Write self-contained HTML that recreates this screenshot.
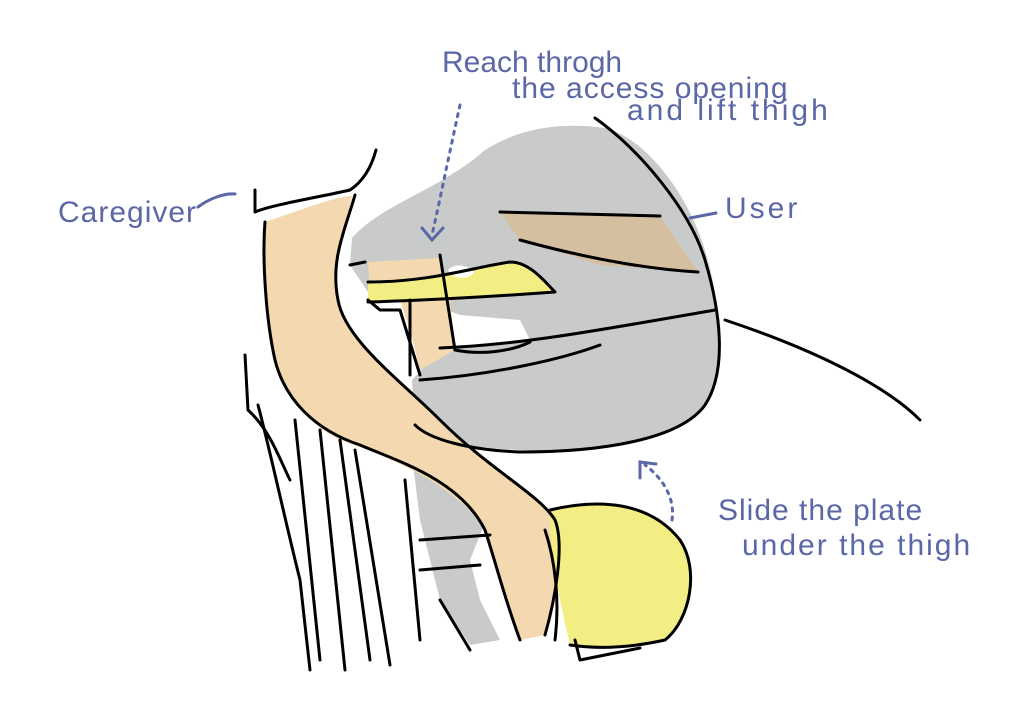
<!DOCTYPE html>
<html><head><meta charset="utf-8"><style>
html,body{margin:0;padding:0;background:#fff;width:1024px;height:703px;overflow:hidden}
svg{display:block}
text{font-family:"Liberation Sans",sans-serif;fill:#5b67a6;font-size:30px}
</style></head><body>
<svg width="1024" height="703" viewBox="0 0 1024 703">
<path d="M352,238 C380,205 440,190 485,150 C520,128 560,122 605,128 C650,140 690,200 705,250 C720,300 728,370 705,405 C680,440 600,452 520,450 C470,448 430,440 415,425 L412,380 L440,350 L530,340 L520,320 L460,315 L420,300 L370,295 L350,265 Z" fill="#c8cbca"/>
<path d="M410,440 L470,450 L490,510 L470,560 L480,600 L500,640 L470,645 L440,600 L420,520 Z" fill="#c8cbca"/>
<path d="M500,212 L660,216 L698,272 L600,265 L520,240 Z" fill="#d4bfa0"/>
<path d="M265,222 C300,210 340,195 352,196 C345,230 330,260 338,300 C345,340 400,380 440,420 C490,470 540,495 555,520 C565,545 555,600 545,635 L520,640 C505,600 495,560 485,530 C460,490 400,460 340,440 C300,420 275,380 268,320 C265,280 262,250 265,222 Z" fill="#f4d9b0"/>
<path d="M368,262 L440,258 L450,300 L455,350 L420,370 L410,330 L400,300 L370,290 Z" fill="#f4d9b0"/>
<path d="M368,282 C430,282 470,268 510,262 C530,262 545,282 555,292 C500,296 440,300 368,302 Z" fill="#f3ee84"/>
<path d="M448,270 C455,262 470,266 474,272 C470,280 452,280 448,270 Z" fill="#fff"/>
<path d="M550,510 C600,498 650,502 680,540 C700,570 690,620 665,640 C620,650 590,648 570,645 C560,600 550,560 550,510 Z" fill="#f3ee84"/>
<g fill="none" stroke="#000" stroke-width="3" stroke-linecap="round" stroke-linejoin="round">
<path d="M255,190 L255,212 C270,205 330,195 350,190 C365,180 372,165 376,150"/>
<path d="M338,300 C345,340 400,380 440,420 C490,470 540,495 555,520 C565,545 555,600 545,635"/>
<path d="M265,222 C262,260 266,320 275,360 C285,400 315,430 360,445 C400,462 460,480 485,530 C495,560 505,600 520,640"/>
<path d="M355,195 C345,230 330,260 338,300"/>
<path d="M595,118 C640,150 690,210 705,260 C720,310 728,370 705,405 C680,440 600,452 520,452 C470,450 430,440 415,425"/>
<path d="M500,212 L660,216"/><path d="M520,240 C600,262 660,270 698,272"/>
<path d="M440,348 C520,345 600,330 715,310"/>
<path d="M420,380 C490,375 560,360 600,345"/>
<path d="M725,320 C800,345 880,380 920,420"/>
<path d="M368,282 C430,282 470,268 510,262 C530,262 545,282 555,292 C500,296 440,300 368,302"/>
<path d="M350,265 L365,262"/><path d="M368,300 L380,310 L400,310 L420,375"/>
<path d="M440,255 L455,350"/>
<path d="M410,300 L410,375"/><path d="M455,350 C480,355 510,352 530,342"/>
<path d="M550,510 C600,498 650,502 680,540 C700,570 690,620 665,640 C620,650 590,648 570,645"/>
<path d="M545,530 C555,560 560,600 555,640"/><path d="M575,640 L580,660 L640,648"/>
<path d="M245,355 L248,410 C270,430 280,460 290,480"/>
<path d="M258,405 C270,450 285,520 300,580 L310,670"/>
<path d="M295,420 L320,660"/><path d="M320,430 L345,670"/><path d="M340,440 L370,660"/><path d="M355,450 L390,665"/>
<path d="M405,480 L420,640"/>
<path d="M420,540 L490,535"/><path d="M420,570 L480,565"/>
<path d="M440,600 L470,650"/>
</g>
<g fill="none" stroke="#5b67a6" stroke-width="3" stroke-dasharray="3 6" stroke-linecap="round">
<path d="M460,105 C450,150 440,200 432,235"/>
<path d="M672,520 C675,500 665,480 645,465"/>
</g>
<g fill="none" stroke="#5b67a6" stroke-width="3" stroke-linecap="round">
<path d="M422,228 L432,240 L443,228"/>
<path d="M640,478 L640,462 L656,464"/>
<path d="M198,207 C210,198 225,193 235,194"/>
<path d="M690,218 L716,213"/>
</g>
<text x="58" y="222" letter-spacing="1">Caregiver</text>
<text x="442" y="72">Reach throgh</text>
<text x="512" y="98" letter-spacing="1">the access opening</text>
<text x="627" y="120" letter-spacing="3">and lift thigh</text>
<text x="725" y="218" letter-spacing="3">User</text>
<text x="718" y="520" letter-spacing="1">Slide the plate</text>
<text x="742" y="555" letter-spacing="2">under the thigh</text>
</svg>
</body></html>
